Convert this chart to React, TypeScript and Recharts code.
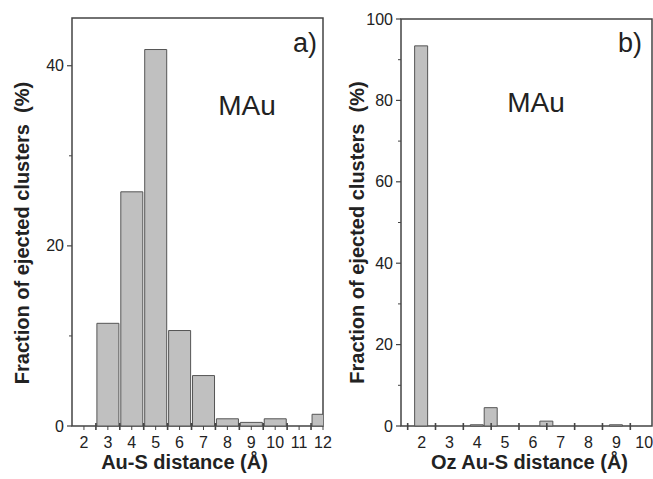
import React from 'react';
import { BarChart, Bar, XAxis, YAxis, ReferenceArea, Label } from 'recharts';

// panel a) Au-S distance histogram, 1 Å bins
const auSBins = [2, 3, 4, 5, 6, 7, 8, 9, 10, 11, 12];
const auSFraction = [0, 11.4, 26.0, 41.8, 10.6, 5.6, 0.8, 0.4, 0.8, 0, 1.3];
const auSXLabels = [2, 3, 4, 5, 6, 7, 8, 9, 10, 11, 12];
const auSXEdges = [2.5, 3.5, 4.5, 5.5, 6.5, 7.5, 8.5, 9.5, 10.5, 11.5];
const auSYLabels = [0, 20, 40];
const auSYMinor = [10, 30];
const auSXDomain = [1.5, 12];
const auSYDomain = [0, 45.3];

// panel b) Oz Au-S distance histogram, 0.5 Å bins
const ozBins = [2, 2.5, 3, 3.5, 4, 4.5, 5, 5.5, 6, 6.5, 7, 7.5, 8, 8.5, 9];
const ozFraction = [93.4, 0, 0, 0, 0.3, 4.5, 0, 0, 0, 1.2, 0, 0, 0, 0, 0.3];
const ozXLabels = [2, 3, 4, 5, 6, 7, 8, 9, 10];
const ozXEdges = [1.5, 2.5, 3.5, 4.5, 5.5, 6.5, 7.5, 8.5, 9.5];
const ozYLabels = [0, 20, 40, 60, 80, 100];
const ozYMinor = [10, 30, 50, 70, 90];
const ozXDomain = [1.26, 10.28];
const ozYDomain = [0, 100];

const FONT = '"Liberation Sans", Arial, Helvetica, sans-serif';
const INK = '#222';
const AXIS = '#444';

const auSData = auSBins.map((d, i) => ({ d, v: auSFraction[i] }));
const ozData = ozBins.map((d, i) => ({ d, v: ozFraction[i] }));

const makeXTick = (edges: number[], intTicks: boolean) => (props: any) => {
  const { x, y, payload } = props;
  const v = payload.value;
  if (edges.includes(v)) {
    return <line x1={x} x2={x} y1={y - 3} y2={y + 4} stroke={AXIS} strokeWidth={1.6} />;
  }
  return (
    <g>
      {intTicks && <line x1={x} x2={x} y1={y} y2={y + 4} stroke={AXIS} strokeWidth={1} />}
      <text x={x} y={y + 22} textAnchor="middle" fontSize={16} fontFamily={FONT} fill={INK}>
        {v}
      </text>
    </g>
  );
};

const makeYTick = (labels: number[]) => (props: any) => {
  const { x, y, payload } = props;
  const v = payload.value;
  if (!labels.includes(v)) {
    return <line x1={x - 3} x2={x} y1={y} y2={y} stroke={AXIS} strokeWidth={1} />;
  }
  return (
    <g>
      <line x1={x - 5} x2={x} y1={y} y2={y} stroke={AXIS} strokeWidth={1.2} />
      <text x={x - 8} y={y} dy="0.35em" textAnchor="end" fontSize={16} fontFamily={FONT} fill={INK}>
        {v}
      </text>
    </g>
  );
};

const titleStyle = { fontSize: 20, fontWeight: 'bold', fontFamily: FONT, fill: INK };

export default function App() {
  return (
    <div
      style={{
        position: 'absolute',
        left: 0,
        top: 0,
        width: 653,
        height: 479,
        background: '#fff',
        overflow: 'hidden',
      }}
    >
      {/* a) */}
      <div style={{ position: 'absolute', left: 0, top: 0 }}>
        <BarChart width={340} height={479} data={auSData} margin={{ top: 18, right: 17, bottom: 0, left: 0 }}>
          <XAxis
            dataKey="d"
            type="number"
            domain={auSXDomain}
            allowDataOverflow
            ticks={[...auSXLabels, ...auSXEdges].sort((a, b) => a - b)}
            interval={0}
            tickSize={0}
            tickMargin={0}
            tickLine={false}
            axisLine={false}
            height={53}
            tick={makeXTick(auSXEdges, true)}
          >
            <Label value="Au-S distance (Å)" position="insideBottom" offset={10} dx={-13} style={titleStyle} />
          </XAxis>
          <YAxis
            type="number"
            domain={auSYDomain}
            ticks={[...auSYLabels, ...auSYMinor].sort((a, b) => a - b)}
            interval={0}
            tickSize={0}
            tickMargin={0}
            tickLine={false}
            axisLine={false}
            width={72}
            tick={makeYTick(auSYLabels)}
          >
            <Label
              value={'Fraction of ejected clusters\u00A0 (%)'}
              angle={-90}
              position="insideLeft"
              offset={22}
              dy={11}
              style={{ ...titleStyle, textAnchor: 'middle' }}
            />
          </YAxis>
          <Bar dataKey="v" fill="#c0c0c0" stroke="#555" strokeWidth={1} barSize={22} isAnimationActive={false} />
          <ReferenceArea
            x1={auSXDomain[0]}
            x2={auSXDomain[1]}
            y1={auSYDomain[0]}
            y2={auSYDomain[1]}
            fill="none"
            fillOpacity={0}
            stroke={AXIS}
            strokeWidth={1.5}
          />
        </BarChart>
      </div>

      {/* b) */}
      <div style={{ position: 'absolute', left: 330, top: 0 }}>
        <BarChart width={323} height={479} data={ozData} margin={{ top: 19, right: 1, bottom: 0, left: 0 }}>
          <XAxis
            dataKey="d"
            type="number"
            domain={ozXDomain}
            allowDataOverflow
            ticks={[...ozXLabels, ...ozXEdges].sort((a, b) => a - b)}
            interval={0}
            tickSize={0}
            tickMargin={0}
            tickLine={false}
            axisLine={false}
            height={53}
            tick={makeXTick(ozXEdges, false)}
          >
            <Label value="Oz Au-S distance (Å)" position="insideBottom" offset={10} dx={3} style={titleStyle} />
          </XAxis>
          <YAxis
            type="number"
            domain={ozYDomain}
            ticks={[...ozYLabels, ...ozYMinor].sort((a, b) => a - b)}
            interval={0}
            tickSize={0}
            tickMargin={0}
            tickLine={false}
            axisLine={false}
            width={71}
            tick={makeYTick(ozYLabels)}
          >
            <Label
              value={'Fraction of ejected clusters\u00A0 (%)'}
              angle={-90}
              position="insideLeft"
              offset={27}
              dy={10}
              style={{ ...titleStyle, textAnchor: 'middle' }}
            />
          </YAxis>
          <Bar dataKey="v" fill="#c0c0c0" stroke="#555" strokeWidth={1} barSize={13} isAnimationActive={false} />
          <ReferenceArea
            x1={ozXDomain[0]}
            x2={ozXDomain[1]}
            y1={ozYDomain[0]}
            y2={ozYDomain[1]}
            fill="none"
            fillOpacity={0}
            stroke={AXIS}
            strokeWidth={1.5}
          />
        </BarChart>
      </div>

      {/* panel annotations */}
      <svg
        width={653}
        height={479}
        style={{ position: 'absolute', left: 0, top: 0, pointerEvents: 'none' }}
        fontFamily={FONT}
        fill={INK}
      >
        <text x={247} y={115} fontSize={28} textAnchor="middle">MAu</text>
        <text x={293} y={52} fontSize={27}>a)</text>
        <text x={536} y={112} fontSize={28} textAnchor="middle">MAu</text>
        <text x={618} y={52} fontSize={27}>b)</text>
      </svg>
    </div>
  );
}
